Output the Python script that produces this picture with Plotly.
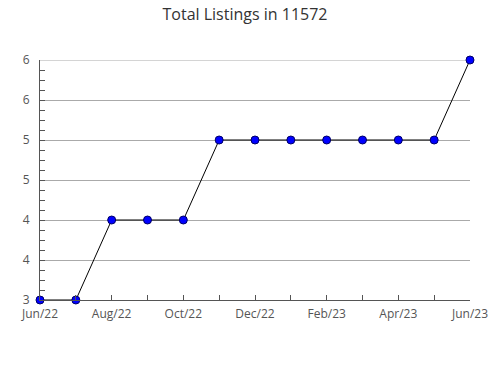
import plotly.graph_objects as go

months = ["Jun/22", "Jul/22", "Aug/22", "Sep/22", "Oct/22", "Nov/22", "Dec/22",
          "Jan/23", "Feb/23", "Mar/23", "Apr/23", "May/23", "Jun/23"]
listings = [3, 3, 4, 4, 4, 5, 5, 5, 5, 5, 5, 5, 6]
x_labels = [m if i % 2 == 0 else "" for i, m in enumerate(months)]
y_ticks = [3, 3.5, 4, 4.5, 5, 5.5, 6]
y_labels = ["3", "4", "4", "5", "5", "6", "6"]

xi = list(range(len(months)))

fig = go.Figure()
fig.add_trace(go.Scatter(
    x=xi, y=listings, mode="lines+markers",
    line=dict(color="black", width=1),
    marker=dict(symbol="circle", size=8, color="#0000ff",
                line=dict(color="#000066", width=1)),
    cliponaxis=False, hoverinfo="skip",
))

# top gridline at the upper tick (plotly hides grid at range edge)
fig.add_shape(type="line", xref="paper", x0=0, x1=1, yref="y",
              y0=y_ticks[-1], y1=y_ticks[-1],
              line=dict(color="#aaaaaa", width=1), layer="below")

fig.update_layout(
    width=490, height=380,
    margin=dict(l=40, r=20, t=60, b=80),
    paper_bgcolor="white", plot_bgcolor="white",
    showlegend=False,
    font=dict(family="Open Sans, sans-serif", color="#555"),
    title=dict(text="Total Listings in 11572", x=0.5, xanchor="center",
               y=0.962, yanchor="middle",
               font=dict(size=16, color="#333")),
)
fig.update_xaxes(
    range=[0, 12], tickmode="array", tickvals=xi, ticktext=x_labels,
    ticks="inside", ticklen=5, tickcolor="#555", tickfont=dict(size=12),
    ticklabelstandoff=3,
    showline=True, linecolor="#555", linewidth=1,
    showgrid=False, zeroline=False, automargin=False,
)
fig.update_yaxes(
    range=[3, 6], tickmode="array", tickvals=y_ticks, ticktext=y_labels,
    ticks="inside", ticklen=5, tickcolor="#555", tickfont=dict(size=12),
    ticklabelstandoff=7,
    minor=dict(ticks="inside", ticklen=5, tickcolor="#555", dtick=0.125,
               showgrid=False),
    showline=True, linecolor="#555", linewidth=1,
    showgrid=True, gridcolor="#aaaaaa", gridwidth=1, zeroline=False,
    automargin=False,
)

fig.write_html("out.html")
